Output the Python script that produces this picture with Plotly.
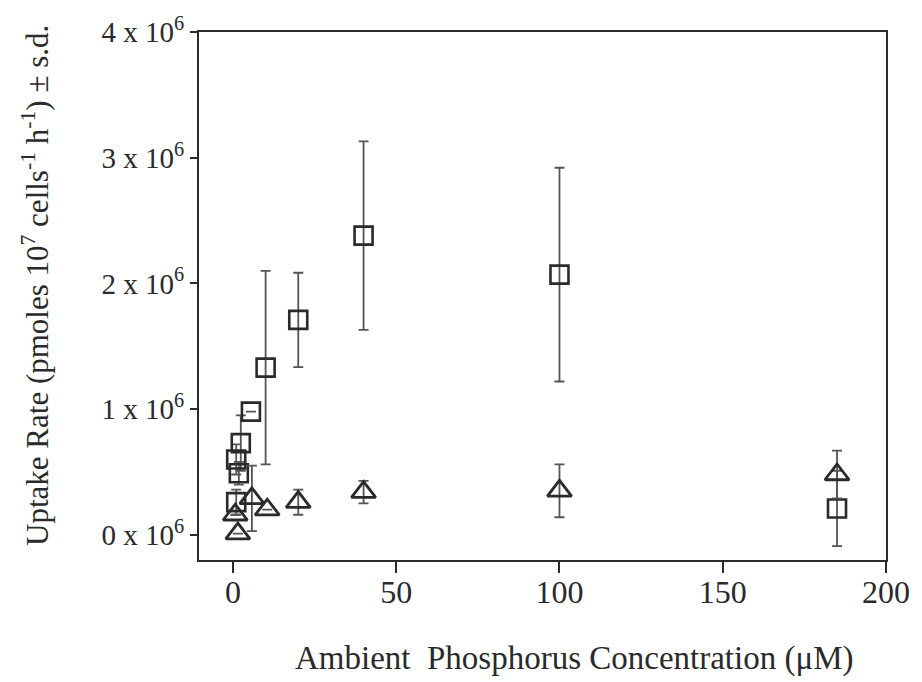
import plotly.graph_objects as go

# Squares series
sq_x = [1.0, 1.0, 1.8, 2.4, 5.5, 10, 20, 40, 100, 185]
sq_y = [0.26e6, 0.60e6, 0.49e6, 0.73e6, 0.98e6, 1.33e6, 1.71e6, 2.38e6, 2.07e6, 0.21e6]
sq_sd = [0.10e6, 0.12e6, 0.09e6, 0.22e6, None, 0.77e6, 0.375e6, 0.75e6, 0.85e6, 0.30e6]

# Triangles series
tr_x = [0.7, 1.5, 5.8, 10.5, 20, 40, 100, 185]
tr_y = [0.16e6, 0.01e6, 0.29e6, 0.20e6, 0.26e6, 0.34e6, 0.35e6, 0.48e6]
tr_sd = [None, None, 0.26e6, None, 0.10e6, 0.09e6, 0.21e6, 0.19e6]

x_ticks = [0, 50, 100, 150, 200]
y_ticks = [0, 1e6, 2e6, 3e6, 4e6]
y_tick_labels = ["0 x 10<sup>6</sup>", "1 x 10<sup>6</sup>", "2 x 10<sup>6</sup>",
                 "3 x 10<sup>6</sup>", "4 x 10<sup>6</sup>"]

FONT = "Liberation Serif, Times New Roman, serif"
INK = "#2a2a2a"

fig = go.Figure()
fig.add_trace(go.Scatter(
    x=sq_x, y=sq_y, mode="markers",
    marker=dict(symbol="square-open", size=18, color=INK, line=dict(width=2.6, color=INK)),
    error_y=dict(type="data", array=sq_sd, color="#555555", thickness=1.8, width=5),
    showlegend=False,
))
fig.add_trace(go.Scatter(
    x=tr_x, y=tr_y, mode="markers",
    marker=dict(symbol="triangle-up-open", size=21, color=INK, line=dict(width=2.8, color=INK)),
    error_y=dict(type="data", array=tr_sd, color="#555555", thickness=1.8, width=5),
    showlegend=False,
))

fig.update_layout(
    width=922, height=682,
    margin=dict(l=199, r=32, t=30, b=122),
    paper_bgcolor="white", plot_bgcolor="white",
    font=dict(family=FONT, size=28, color=INK),
    xaxis=dict(
        range=[-10.4, 200], tickvals=x_ticks, ticktext=[str(v) for v in x_ticks],
        showgrid=False, zeroline=False, showline=True, mirror=True,
        linecolor=INK, linewidth=2, ticks="outside", ticklen=11, tickwidth=2,
        tickcolor=INK, tickfont=dict(family=FONT, size=32, color=INK),
        ticklabelstandoff=-8,
    ),
    yaxis=dict(
        range=[-0.2e6, 4.0e6], tickvals=y_ticks, ticktext=y_tick_labels,
        showgrid=False, zeroline=False, showline=True, mirror=True,
        linecolor=INK, linewidth=2, ticks="outside", ticklen=7, tickwidth=2,
        tickcolor=INK, tickfont=dict(family=FONT, size=29, color=INK),
    ),
    annotations=[
        dict(text="Uptake Rate (pmoles 10<sup>7</sup> cells<sup>-1</sup> h<sup>-1</sup>) \u00b1 s.d.",
             xref="paper", yref="paper", x=-0.238, y=0.52, textangle=-90,
             showarrow=False, font=dict(family=FONT, size=31, color=INK),
             xanchor="center", yanchor="middle"),
        dict(text="Ambient  Phosphorus Concentration (\u03bcM)",
             xref="paper", yref="paper", x=0.546, y=-0.186,
             showarrow=False, font=dict(family=FONT, size=33, color=INK),
             xanchor="center", yanchor="middle"),
    ],
)

fig.write_html("out.html")
